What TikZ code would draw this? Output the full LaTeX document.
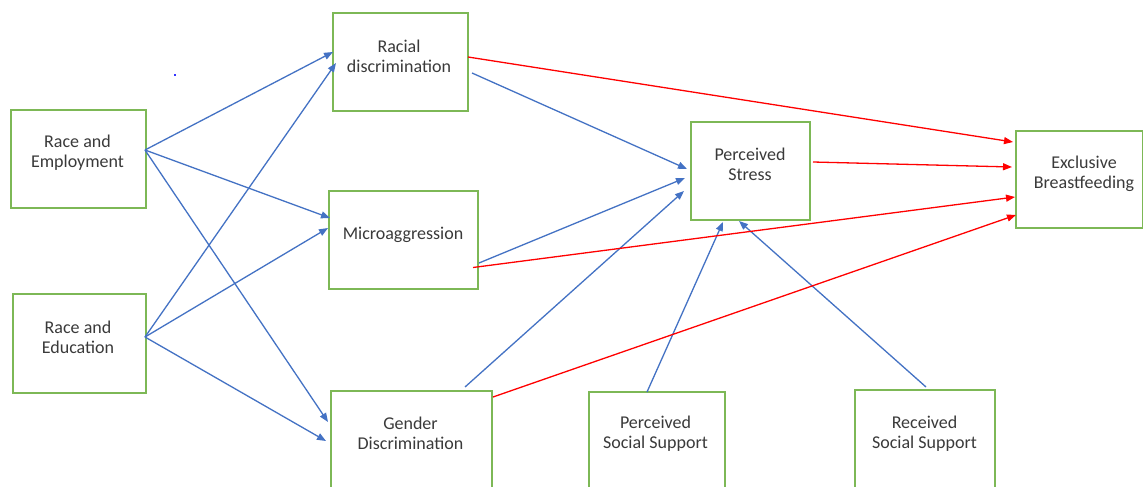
\documentclass[tikz,border=0pt]{standalone}
\usepackage{fontspec}
\setmainfont{Carlito}
\usetikzlibrary{calc,arrows.meta}
\definecolor{boxgreen}{HTML}{7DB856}
\definecolor{arrblue}{HTML}{4472C4}
\definecolor{arrred}{HTML}{FF0000}
\definecolor{txtgray}{HTML}{3A3A3A}
\begin{document}
\begin{tikzpicture}[x=1pt,y=-1pt,
  box/.style={draw=boxgreen,line width=1.7pt,inner sep=0pt,anchor=north west,fill=none},
  lbl/.style={align=center,text=txtgray,inner sep=0pt,font=\fontsize{18}{20}\selectfont},
  barr/.style={draw=arrblue,line width=1.3pt,-{Triangle[length=9pt,width=7pt]}},
  rarr/.style={draw=arrred,line width=1.3pt,-{Triangle[length=9pt,width=7pt]}}]
\fill[white] (0,0) rectangle (1143,487);
\useasboundingbox (0,0) rectangle (1143,487);
% boxes
\node[box,minimum width=135pt,minimum height=98pt] (emp) at (10,109) {};
\node[box,minimum width=133pt,minimum height=99pt] (edu) at (12,293) {};
\node[box,minimum width=135pt,minimum height=98pt] (rac) at (332,12) {};
\node[box,minimum width=149pt,minimum height=98pt] (mic) at (328,190) {};
\node[box,minimum width=161pt,minimum height=110pt] (gen) at (330,390) {};
\node[box,minimum width=119pt,minimum height=98pt] (pst) at (690,121) {};
\node[box,minimum width=127pt,minimum height=97pt] (ebf) at (1015,130) {};
\node[box,minimum width=136pt,minimum height=110pt] (pss) at (588,391) {};
\node[box,minimum width=140pt,minimum height=110pt] (rss) at (854,389) {};
% labels
\node[lbl] (empT) at (77.5,152.5) {Race and\\Employment};
\node[lbl] (eduT) at (78,337.5) {Race and\\Education};
\node[lbl] (racT) at (399,56) {Racial\\discrimination};
\node[lbl] (micT) at (403,234.5) {Microaggression};
\node[lbl] (genT) at (410.5,433.5) {Gender\\Discrimination};
\node[lbl] (pstT) at (750,164) {Perceived\\Stress};
\node[lbl] (ebfT) at (1084,173.5) {Exclusive\\Breastfeeding};
\node[lbl] (pssT) at (655.5,433.5) {Perceived\\Social Support};
\node[lbl] (rssT) at (924.5,433.5) {Received\\Social Support};
% stray dot
\fill[blue!80] (174,74) rectangle (176,76);
% blue arrows
\draw[barr] ($(emp.north west)+(135,41)$) -- ($(rac.north west)+(1,40)$);
\draw[barr] ($(emp.north west)+(135,41)$) -- ($(mic.north west)+(2,28)$);
\draw[barr] ($(emp.north west)+(135,41)$) -- ($(gen.north west)+(-2,32)$);
\draw[barr] ($(edu.north west)+(133,44)$) -- ($(rac.north west)+(4,51)$);
\draw[barr] ($(edu.north west)+(133,44)$) -- ($(mic.north west)+(0,38)$);
\draw[barr] ($(edu.north west)+(133,44)$) -- ($(gen.north west)+(-4,51)$);
\draw[barr] ($(rac.north west)+(140,61)$) -- ($(pst.north west)+(-3,48)$);
\draw[barr] ($(mic.north west)+(151,73)$) -- ($(pst.north west)+(-5,57)$);
\draw[barr] ($(gen.north west)+(135,-3)$) -- ($(pst.north west)+(-6,70)$);
\draw[barr] ($(pss.north west)+(59,1)$) -- ($(pst.north west)+(33,101)$);
\draw[barr] ($(rss.north west)+(72,-2)$) -- ($(pst.north west)+(49,100)$);
% red arrows
\draw[rarr] ($(rac.north west)+(136,45)$) -- ($(ebf.north west)+(-2,12)$);
\draw[rarr] ($(pst.north west)+(123,41)$) -- ($(ebf.north west)+(-3,37)$);
\draw[rarr] ($(mic.north west)+(145,77.5)$) -- ($(ebf.north west)+(0,67)$);
\draw[rarr] ($(gen.north west)+(163,7)$) -- ($(ebf.north west)+(1,85)$);
\end{tikzpicture}
\end{document}
